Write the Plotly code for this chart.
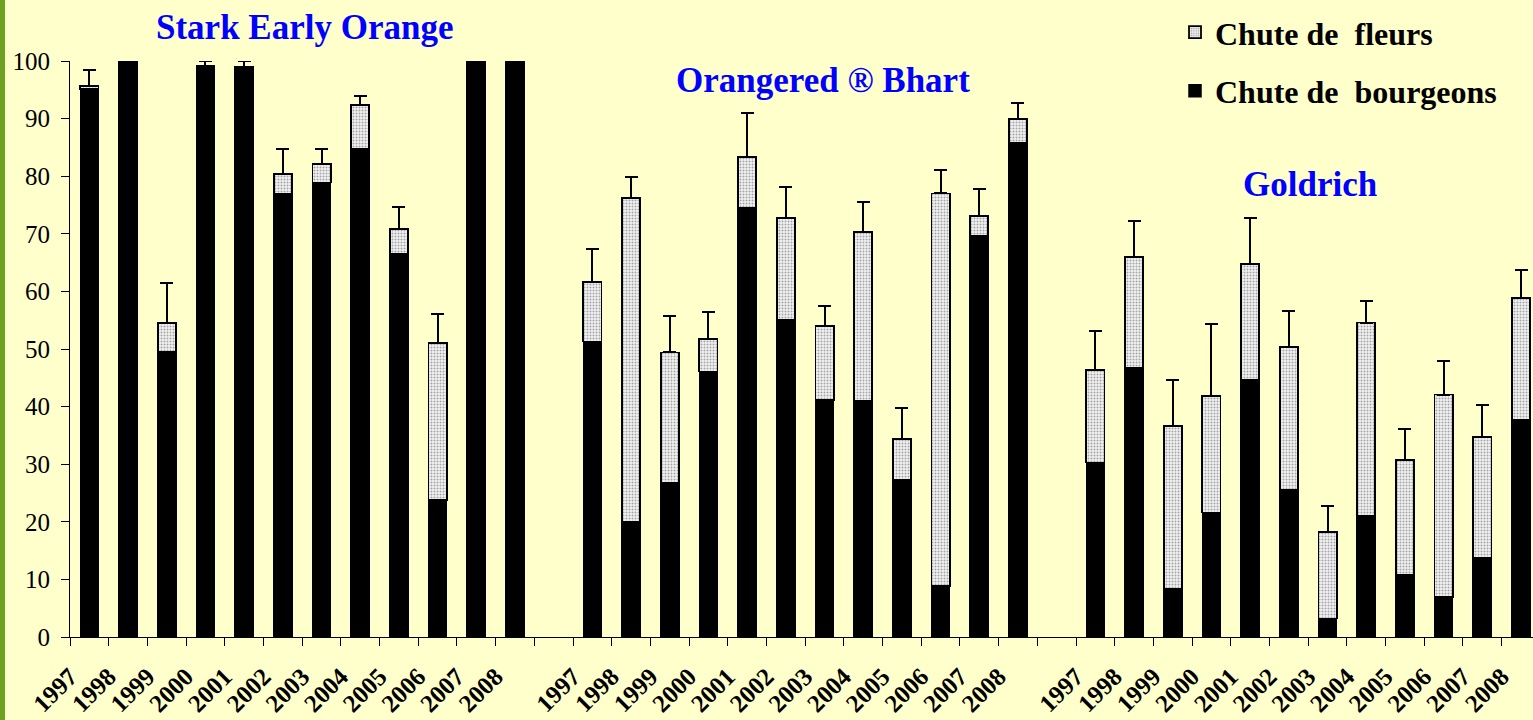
import plotly.graph_objects as go

years = ["1997", "1998", "1999", "2000", "2001", "2002", "2003", "2004", "2005", "2006", "2007", "2008"]
varieties = ["Stark Early Orange", "Orangered ® Bhart", "Goldrich"]

# Chute de bourgeons (black, bottom)
bourgeons_seo = [95.2, 100, 49.5, 99.2, 99.0, 76.9, 78.9, 84.8, 66.5, 23.8, 100, 100]
bourgeons_orb = [51.3, 20.0, 26.8, 46.1, 74.5, 55.0, 41.1, 41.0, 27.3, 8.9, 69.7, 85.7]
bourgeons_gol = [30.3, 46.8, 8.4, 21.6, 44.7, 25.6, 3.2, 21.1, 10.8, 6.9, 13.7, 37.7]

# Chute de fleurs (dotted, stacked on top)
fleurs_seo = [0.4, 0, 5.0, 0, 0, 3.5, 3.2, 7.6, 4.3, 27.3, 0, 0]
fleurs_orb = [10.4, 56.2, 22.6, 5.6, 8.8, 17.8, 12.9, 29.3, 7.1, 68.1, 3.4, 4.2]
fleurs_gol = [16.1, 19.2, 28.3, 20.2, 20.1, 24.7, 15.0, 33.5, 19.9, 35.2, 21.0, 21.2]

# Upper error on the total
err_seo = [2.8, 0, 6.9, 0.8, 1.0, 4.3, 2.6, 1.6, 3.9, 5.0, 0, 0]
err_orb = [5.7, 3.7, 6.3, 4.8, 7.6, 5.3, 3.4, 5.3, 5.4, 4.0, 4.6, 2.8]
err_gol = [6.7, 6.2, 7.9, 12.5, 8.0, 6.3, 4.6, 3.7, 5.4, 5.9, 5.6, 4.8]

bourgeons = [bourgeons_seo, bourgeons_orb, bourgeons_gol]
fleurs = [fleurs_seo, fleurs_orb, fleurs_gol]
errs = [err_seo, err_orb, err_gol]

n_years = len(years)
group_step = n_years + 1  # one empty category between groups

xs, yb, yf, ye, tick_pos, tick_txt = [], [], [], [], [], []
for g in range(len(varieties)):
    for i in range(n_years):
        pos = g * group_step + i
        xs.append(pos)
        yb.append(bourgeons[g][i])
        yf.append(fleurs[g][i])
        ye.append(errs[g][i])
        tick_pos.append(pos - 0.5)
        tick_txt.append(years[i])

n_cat = len(varieties) * group_step - 1
boundaries = [k - 0.5 for k in range(n_cat + 1)]

SERIF = "Liberation Serif"
BG = "#FFFFCC"

fig = go.Figure()
fig.add_trace(go.Bar(
    x=xs, y=yb, name="Chute de  bourgeons", legendgroup="b", legendrank=2,
    marker=dict(color="black", line=dict(color="black", width=1.5)),
))
fig.add_trace(go.Bar(
    x=xs, y=yf, name="Chute de  fleurs", legendgroup="f", legendrank=1,
    marker=dict(color="white",
                pattern=dict(shape=".", fgcolor="#555555", bgcolor="#f2f2f2", size=3, solidity=0.36),
                line=dict(color="black", width=1.8)),
    error_y=dict(type="data", symmetric=False, array=ye, arrayminus=[0] * len(ye),
                 color="black", thickness=2, width=6.5),
))

title_pos = [(5.55, 1.059), (18.95, 0.967), (31.55, 0.786)]
annotations = []
for (tx, ty), name in zip(title_pos, varieties):
    annotations.append(dict(
        x=tx, y=ty, xref="x", yref="paper", text=f"<b>{name}</b>", showarrow=False,
        xanchor="center", yanchor="middle",
        font=dict(family=SERIF, size=35, color="#0000FF"),
    ))

fig.update_layout(
    width=1533, height=720,
    margin=dict(l=70, r=0, t=61, b=83, autoexpand=False),
    paper_bgcolor=BG, plot_bgcolor=BG,
    barmode="stack", bargap=0.53,
    showlegend=True,
    legend=dict(x=0.7553, y=1.0976, xanchor="left", yanchor="top",
                traceorder="grouped", tracegroupgap=14,
                bgcolor="rgba(0,0,0,0)",
                font=dict(family=SERIF, size=32, color="black", weight="bold")),
    annotations=annotations,
    shapes=[dict(type="rect", xref="paper", yref="paper",
                 x0=-70 / 1463, x1=-65 / 1463, y0=-83 / 576, y1=1 + 61 / 576,
                 fillcolor="#6EA021", line=dict(width=0), layer="below")],
    xaxis=dict(range=[-0.5, 37.31], showgrid=False, zeroline=False,
               showline=True, linecolor="black", linewidth=1,
               tickmode="array", tickvals=tick_pos, ticktext=tick_txt,
               ticks="", tickangle=-45, ticklabelstandoff=14,
               tickfont=dict(family=SERIF, size=25, color="black", weight="bold"),
               minor=dict(tickmode="array", tickvals=boundaries, ticks="outside",
                          ticklen=8, tickwidth=1, tickcolor="black", showgrid=False)),
    yaxis=dict(range=[0, 100], tickmode="linear", tick0=0, dtick=10,
               showgrid=False, zeroline=False, showline=True, linecolor="black", linewidth=1,
               ticks="outside", ticklen=8, tickwidth=1, tickcolor="black",
               ticklabelstandoff=6,
               tickfont=dict(family=SERIF, size=25, color="black")),
)

fig.write_html(
    "out.html",
    config={"displayModeBar": False},
    post_script="document.body.style.margin='0';document.body.style.background='#FFFFCC';",
)
